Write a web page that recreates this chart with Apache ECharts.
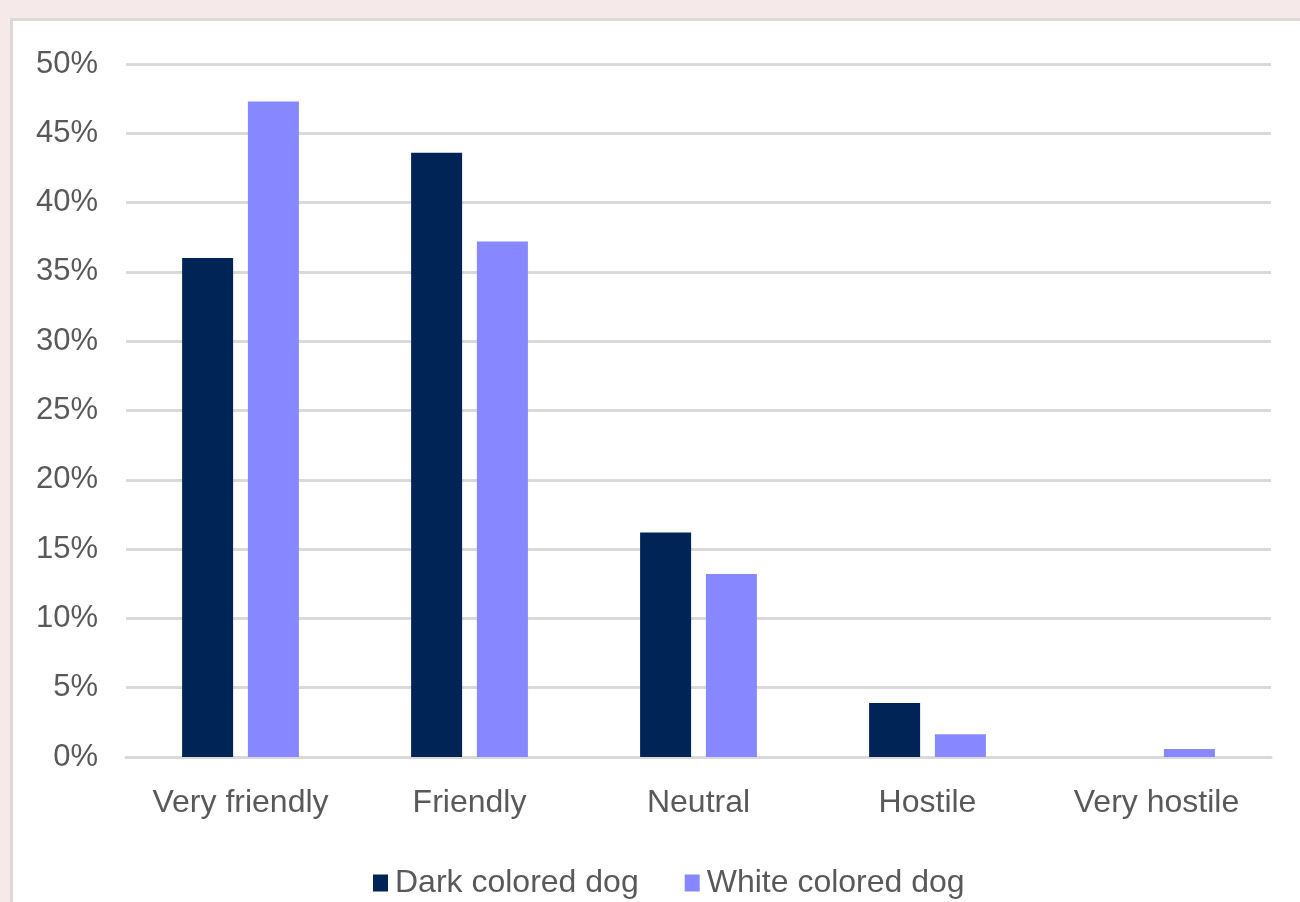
<!DOCTYPE html>
<html>
<head>
<meta charset="utf-8">
<script src="https://cdn.jsdelivr.net/npm/echarts@6/dist/echarts.min.js"></script>
<style>
  html, body { margin: 0; padding: 0; width: 1300px; height: 902px; overflow: hidden; background: #f5eae9; }
  #panel { position: absolute; left: 10px; top: 18px; width: 1300px; height: 900px; background: #ffffff; border-left: 3px solid #d9d9d9; border-top: 3px solid #d9d9d9; }
  #chart { position: absolute; left: 0; top: 0; width: 1300px; height: 902px; }
</style>
</head>
<body>
<div id="panel"></div>
<div id="chart"></div>
<script>
const categories = ['Very friendly', 'Friendly', 'Neutral', 'Hostile', 'Very hostile'];
const seriesNames = ['Dark colored dog', 'White colored dog'];
const darkDog = [36.0, 43.6, 16.2, 3.9, 0];
const whiteDog = [47.3, 37.2, 13.2, 1.65, 0.58];
const yTicks = { min: 0, max: 50, interval: 5 };

const chart = echarts.init(document.getElementById('chart'), null, { renderer: 'canvas' });
const font = 'Liberation Sans, Arial, sans-serif';
chart.setOption({
  backgroundColor: 'transparent',
  animation: false,
  grid: { left: 126, right: 29, top: 64, bottom: 145, containLabel: false },
  legend: {
    left: 368, top: 862,
    itemWidth: 15, itemHeight: 17, itemGap: 46,
    icon: 'rect',
    textStyle: { fontFamily: font, fontSize: 32, color: '#595959', padding: [0, 0, 0, 2] },
    data: seriesNames
  },
  xAxis: {
    type: 'category',
    data: categories,
    axisLine: { show: true, lineStyle: { color: '#d9d9d9', width: 3 } },
    axisTick: { show: false },
    axisLabel: { fontFamily: font, fontSize: 32, color: '#595959', margin: 30 }
  },
  yAxis: {
    type: 'value',
    min: yTicks.min, max: yTicks.max, interval: yTicks.interval,
    axisLine: { show: false },
    axisTick: { show: false },
    splitLine: { lineStyle: { color: '#d9d9d9', width: 3 } },
    axisLabel: { fontFamily: font, fontSize: 31, color: '#595959', margin: 28, padding: [5, 0, 0, 0], formatter: '{value}%' }
  },
  series: [
    { name: seriesNames[0], type: 'bar', data: darkDog, barWidth: 51, barGap: '29%', itemStyle: { color: '#002456' } },
    { name: seriesNames[1], type: 'bar', data: whiteDog, barWidth: 51, barGap: '29%', itemStyle: { color: '#8787ff' } }
  ]
});
</script>
</body>
</html>
